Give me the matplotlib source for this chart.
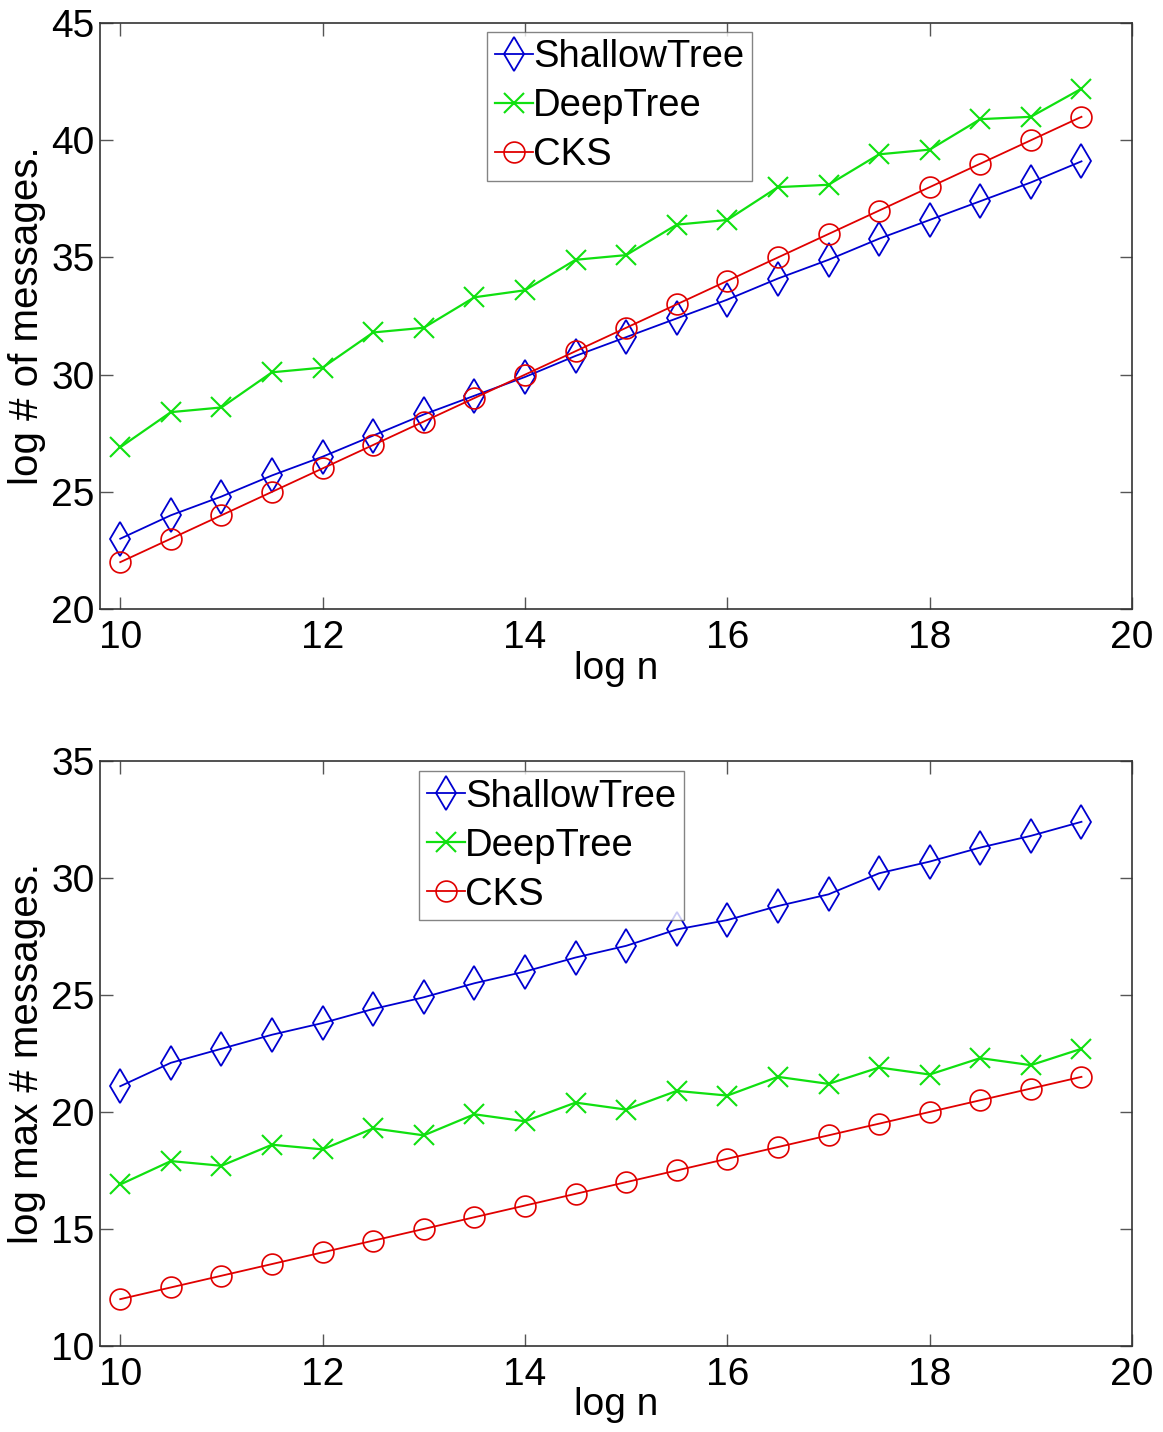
import matplotlib
matplotlib.use("Agg")
import matplotlib.pyplot as plt

plt.rcParams["font.family"] = ["Liberation Sans", "DejaVu Sans"]

# log n
log_n = [10, 10.5, 11, 11.5, 12, 12.5, 13, 13.5, 14, 14.5,
         15, 15.5, 16, 16.5, 17, 17.5, 18, 18.5, 19, 19.5]

# total messages (log)
shallow_total = [23.0, 24.0, 24.8, 25.7, 26.5, 27.4, 28.3, 29.1, 29.9, 30.8,
                 31.6, 32.4, 33.2, 34.1, 34.9, 35.8, 36.6, 37.4, 38.2, 39.1]
deep_total = [26.9, 28.4, 28.6, 30.1, 30.3, 31.8, 32.0, 33.3, 33.6, 34.9,
              35.1, 36.4, 36.6, 38.0, 38.1, 39.4, 39.6, 40.9, 41.0, 42.2]
cks_total = [22.0, 23.0, 24.0, 25.0, 26.0, 27.0, 28.0, 29.0, 30.0, 31.0,
             32.0, 33.0, 34.0, 35.0, 36.0, 37.0, 38.0, 39.0, 40.0, 41.0]

# max messages per node (log)
shallow_max = [21.1, 22.1, 22.7, 23.3, 23.8, 24.4, 24.9, 25.5, 26.0, 26.6,
               27.1, 27.8, 28.2, 28.8, 29.3, 30.2, 30.7, 31.3, 31.8, 32.4]
deep_max = [16.9, 17.9, 17.7, 18.6, 18.4, 19.3, 19.0, 19.9, 19.6, 20.4,
            20.1, 20.9, 20.7, 21.5, 21.2, 21.9, 21.6, 22.3, 22.0, 22.7]
cks_max = [12.0, 12.5, 13.0, 13.5, 14.0, 14.5, 15.0, 15.5, 16.0, 16.5,
           17.0, 17.5, 18.0, 18.5, 19.0, 19.5, 20.0, 20.5, 21.0, 21.5]

series_names = ["ShallowTree", "DeepTree", "CKS"]
x_ticks = [10, 12, 14, 16, 18, 20]
top_yticks = [20, 25, 30, 35, 40, 45]
bottom_yticks = [10, 15, 20, 25, 30, 35]

BLUE = "#0000d0"
GREEN = "#10e010"
RED = "#e00000"
FS = 28


def draw(ax, shallow, deep, cks, yticks, ylabel, leg_x, leg_y, xlab_y):
    ax.plot(log_n, shallow, color=BLUE, marker="d", ms=17, mfc="none",
            mew=1.3, lw=1.3, label=series_names[0])
    ax.plot(log_n, deep, color=GREEN, marker="x", ms=14, mew=1.5,
            lw=1.6, label=series_names[1])
    ax.plot(log_n, cks, color=RED, marker="o", ms=15, mfc="none",
            mew=1.2, lw=1.3, label=series_names[2])

    ax.set_xlim(9.8, 20)
    ax.set_ylim(yticks[0], yticks[-1])
    ax.set_xticks(x_ticks)
    ax.set_yticks(yticks)
    ax.tick_params(direction="in", length=9, width=1, color="#555555",
                   labelsize=FS, top=True, right=True)
    ax.tick_params(axis="x", pad=8)
    ax.tick_params(axis="y", pad=4)
    for sp in ax.spines.values():
        sp.set_color("#333333")
        sp.set_linewidth(1.2)

    ax.set_xlabel("log n", fontsize=FS)
    ax.set_ylabel(ylabel, fontsize=FS + 1)
    ax.xaxis.set_label_coords(0.5, xlab_y)
    ax.yaxis.set_label_coords(-0.052, 0.5)

    leg = ax.legend(loc="upper left", bbox_to_anchor=(leg_x, leg_y),
                    fontsize=27.5, frameon=True, fancybox=False,
                    handlelength=1.0, handletextpad=0.0, borderpad=0.2,
                    labelspacing=0.34, borderaxespad=0)
    leg.get_frame().set_edgecolor("#666666")
    leg.get_frame().set_linewidth(1.0)


fig = plt.figure(figsize=(11.63, 14.32), dpi=100)
ax1 = fig.add_axes([0.086, 0.5747, 0.8874, 0.4092])
ax2 = fig.add_axes([0.086, 0.0601, 0.8874, 0.4085])

draw(ax1, shallow_total, deep_total, cks_total, top_yticks,
     "log # of messages.", 0.375, 0.985, -0.072)
draw(ax2, shallow_max, deep_max, cks_max, bottom_yticks,
     "log max # messages.", 0.309, 0.983, -0.070)

fig.savefig("out.png", dpi=100)
